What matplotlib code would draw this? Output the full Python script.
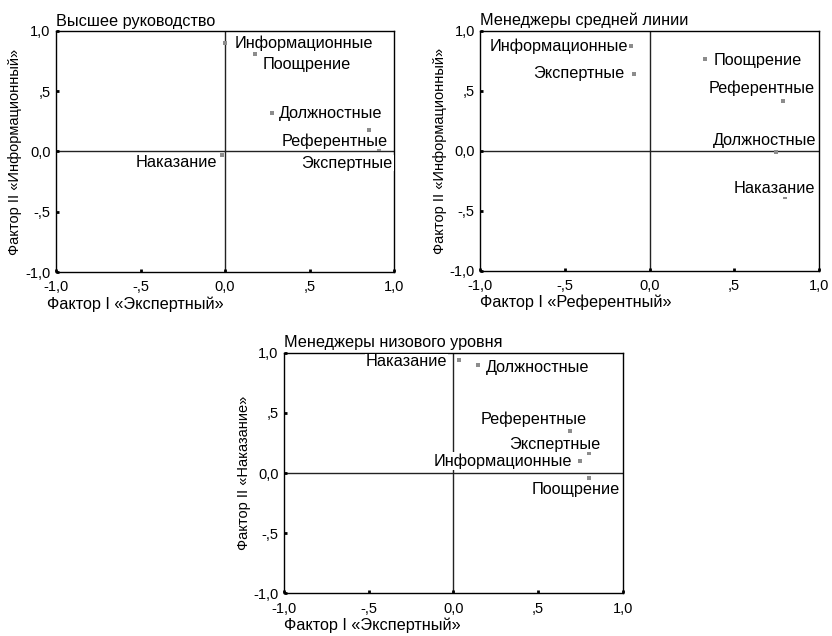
import matplotlib
matplotlib.use("Agg")
import matplotlib.pyplot as plt

plt.rcParams['font.family'] = ['Liberation Sans', 'DejaVu Sans']

# --- data ---
top_names = ["Информационные", "Поощрение", "Должностные", "Референтные", "Экспертные", "Наказание"]
top_x = [0.00, 0.18, 0.28, 0.85, 0.91, -0.02]
top_y = [0.90, 0.81, 0.32, 0.18, 0.02, -0.025]

mid_names = ["Информационные", "Экспертные", "Поощрение", "Референтные", "Должностные", "Наказание"]
mid_x = [-0.11, -0.09, 0.33, 0.79, 0.745, 0.80]
mid_y = [0.87, 0.64, 0.76, 0.41, -0.01, -0.39]

low_names = ["Наказание", "Должностные", "Референтные", "Экспертные", "Информационные", "Поощрение"]
low_x = [0.03, 0.146, 0.69, 0.80, 0.75, 0.80]
low_y = [0.94, 0.895, 0.35, 0.166, 0.10, -0.04]

ticks = [-1.0, -0.5, 0.0, 0.5, 1.0]
tick_labels = ["-1,0", "-,5", "0,0", ",5", "1,0"]

# label placement (pixel offsets from point, horizontal alignment)
top_off = [(10, 0, 'left'), (7, -11, 'left'), (7, -1, 'left'), (19, -11, 'right'), (14, -14, 'right'), (-5, -8, 'right')]
mid_off = [(-3, 0, 'right'), (-10, 0, 'right'), (8, -1, 'left'), (32, 13, 'right'), (41, 11, 'right'), (30, 9, 'right')]
low_off = [(-11, -2, 'right'), (8, -2, 'left'), (17, 12, 'right'), (12, 9, 'right'), (-8, 0, 'right'), (31, -12, 'right')]

FS = 11.7      # horizontal texts
FS_TICK = 10.5
FS_Y = 10.5    # rotated axis title


def draw_panel(ax, title, xlab, ylab, names, xs, ys, offs, xlab_shift=0.0):
    ax.set_xlim(-1, 1)
    ax.set_ylim(-1, 1)
    ax.axhline(0, color='#222222', lw=1.0, zorder=1)
    ax.axvline(0, color='#222222', lw=1.0, zorder=1)
    ax.scatter(xs, ys, marker='s', s=7, color='#8c8c8c', zorder=3, linewidths=0)
    for name, x, y, (dx, dy, ha) in zip(names, xs, ys, offs):
        ax.annotate(name, (x, y), xytext=(dx, dy), textcoords='offset pixels',
                    ha=ha, va='center', fontsize=FS, zorder=4,
                    bbox=dict(boxstyle='square,pad=0.05', fc='white', ec='none'))
    ax.set_xticks(ticks)
    ax.set_xticklabels(tick_labels)
    ax.set_yticks(ticks)
    ax.set_yticklabels(tick_labels)
    ax.tick_params(direction='in', length=2, width=2, labelsize=FS_TICK)
    ax.tick_params(axis='x', pad=6)
    ax.tick_params(axis='y', pad=4)
    for sp in ax.spines.values():
        sp.set_linewidth(1.0)
        sp.set_color('black')
    ax.text(0.0, 1.01, title, transform=ax.transAxes, ha='left', va='bottom', fontsize=FS)
    ax.text(xlab_shift, -0.1, xlab, transform=ax.transAxes, ha='left', va='top', fontsize=FS)
    ax.set_ylabel(ylab, fontsize=FS_Y, labelpad=2)


fig = plt.figure(figsize=(8.32, 6.36), dpi=100)
ax1 = fig.add_axes([0.0673, 0.5723, 0.4063, 0.379])
ax2 = fig.add_axes([0.5773, 0.5744, 0.4067, 0.3774])
ax3 = fig.add_axes([0.3417, 0.0671, 0.4067, 0.3783])

draw_panel(ax1, "Высшее руководство", "Фактор I «Экспертный»", "Фактор II «Информационный»",
           top_names, top_x, top_y, top_off, xlab_shift=-0.027)
draw_panel(ax2, "Менеджеры средней линии", "Фактор I «Референтный»", "Фактор II «Информационный»",
           mid_names, mid_x, mid_y, mid_off)
draw_panel(ax3, "Менеджеры низового уровня", "Фактор I «Экспертный»", "Фактор II «Наказание»",
           low_names, low_x, low_y, low_off)

fig.savefig("out.png", dpi=100)
